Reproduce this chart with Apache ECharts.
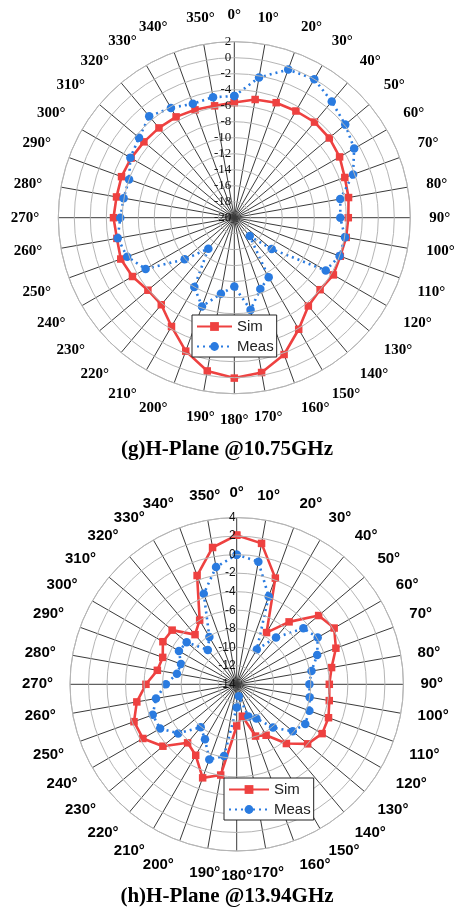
<!DOCTYPE html>
<html><head><meta charset="utf-8">
<script src="https://cdn.jsdelivr.net/npm/echarts@6/dist/echarts.min.js"></script>
<style>html,body{margin:0;padding:0;background:#fff}#c{width:454px;height:908px}</style>
</head><body><div id="c"></div>
<script>
// Angles (degrees) shared by both patterns
const angles = [0,10,20,30,40,50,60,70,80,90,100,110,120,130,140,150,160,170,180,190,200,210,220,230,240,250,260,270,280,290,300,310,320,330,340,350];

// (g) H-Plane @10.75GHz
const simG  = [-5.6,-5.0,-4.7,-4.6,-4.4,-4.5,-4.8,-5.3,-5.5,-5.75,-5.8,-5.9,-5.7,-6.0,-5.6,-3.9,-1.8,-0.35,0.05,-0.55,-2.25,-4.3,-5.8,-5.9,-5.3,-4.9,-5.1,-4.9,-5.05,-5.0,-5.1,-5.25,-5.35,-5.45,-5.65,-5.8];
const measG = [-4.8,-2.2,-0.3,0.0,-1.05,-1.9,-2.7,-4.2,-6.55,-6.75,-5.95,-6.0,-6.8,-13.9,-17.0,-11.4,-10.5,-8.3,-11.4,-10.35,-8.2,-10.0,-14.95,-11.9,-7.2,-5.75,-5.2,-5.75,-5.95,-6.0,-5.0,-4.45,-3.45,-4.15,-4.85,-4.7];
const radialTicksG = [-20,-18,-16,-14,-12,-10,-8,-6,-4,-2,0,2];

// (h) H-Plane @13.94GHz
const simH  = [2.1,1.45,-1.8,-7.55,-5.2,-2.45,-1.85,-2.6,-3.6,-4.0,-3.85,-3.45,-3.35,-4.0,-5.65,-7.65,-8.05,-10.5,-9.5,-4.05,-3.25,-5.15,-5.75,-3.6,-2.3,-2.2,-3.05,-4.2,-5.3,-5.5,-4.8,-4.9,-7.0,-6.0,-1.5,1.0];
const measH = [0.0,-0.55,-3.9,-9.65,-7.4,-4.6,-3.9,-4.75,-5.8,-6.15,-6.0,-5.65,-5.45,-6.1,-7.9,-9.75,-10.3,-12.7,-11.5,-6.15,-5.35,-7.15,-7.95,-5.75,-4.45,-4.35,-5.15,-6.35,-7.45,-7.6,-6.8,-6.95,-9.15,-8.1,-3.6,-1.15];
const radialTicksH = [-14,-12,-10,-8,-6,-4,-2,0,2,4];

const titles = ['(g)H-Plane @10.75GHz', '(h)H-Plane @13.94GHz'];
const seriesNames = ['Sim', 'Meas'];

const RED = '#ee4140', BLUE = '#2a7be0';
const SPOKE = '#3a3a3a', RING = '#b5b5b5';

function closed(vals) {
  const a = angles.concat([360]);
  return a.map((ang, i) => [vals[i % vals.length], ang]);
}

function polarAxes(idx, ticks, fontFamily, margin, radFont, radMargin) {
  const angleAxis = {
    polarIndex: idx, type: 'value', min: 0, max: 360, interval: 10,
    startAngle: 90, clockwise: true,
    axisLine: { lineStyle: { color: RING, width: 1 } },
    axisTick: { show: false },
    splitLine: { show: true, lineStyle: { color: SPOKE, width: 1 } },
    axisLabel: {
      margin: margin, color: '#000', fontFamily: fontFamily, fontWeight: 'bold', fontSize: 15,
      formatter: v => (v >= 360 ? '' : v + '°')
    }
  };
  const radiusAxis = {
    polarIndex: idx, type: 'value', min: ticks[0], max: ticks[ticks.length - 1], interval: ticks[1] - ticks[0],
    axisLine: { show: false }, axisTick: { show: false },
    splitLine: { show: true, lineStyle: { color: RING, width: 1 } },
    axisLabel: { margin: radMargin, color: '#111', fontFamily: radFont, fontSize: 13 },
    z: 5
  };
  return [angleAxis, radiusAxis];
}

const [aG, rG] = polarAxes(0, radialTicksG, '"Liberation Serif", "Times New Roman", serif', 19, '"Liberation Serif", serif', 3);
const [aH, rH] = polarAxes(1, radialTicksH, '"Liberation Sans", Arial, sans-serif', 17, '"Liberation Sans", Arial, sans-serif', 1);
rH.axisLabel.fontSize = 12;

function mkSeries(idx, sim, meas) {
  return [
    { name: seriesNames[0], type: 'line', coordinateSystem: 'polar', polarIndex: idx,
      data: closed(sim), symbol: 'rect', symbolSize: 7.5, z: 3,
      lineStyle: { color: RED, width: 2.6 }, itemStyle: { color: RED }, animation: false },
    { name: seriesNames[1], type: 'line', coordinateSystem: 'polar', polarIndex: idx,
      data: closed(meas), symbol: 'circle', symbolSize: 8.5, z: 4,
      lineStyle: { color: BLUE, width: 2.6, type: [2, 4] }, itemStyle: { color: BLUE }, animation: false }
  ];
}

function mkLegend(left, top, itemWidth) {
  return {
    data: seriesNames, orient: 'vertical', left: left, top: top,
    backgroundColor: '#fff', borderColor: '#222', borderWidth: 1, borderRadius: 0,
    padding: [4, 3, 3, 4], itemWidth: itemWidth, itemHeight: 11, itemGap: 5,
    textStyle: { fontFamily: '"Liberation Sans", Arial, sans-serif', fontSize: 15, color: '#222' },
    selectedMode: false, z: 10
  };
}

const titleStyle = { fontFamily: '"Liberation Serif", "Times New Roman", serif', fontWeight: 'bold', fontSize: 21, color: '#000' };

const chart = echarts.init(document.getElementById('c'), null, { renderer: 'canvas' });
chart.setOption({
  animation: false,
  backgroundColor: '#fff',
  title: [
    { text: titles[0], left: 'center', top: 434, textStyle: titleStyle },
    { text: titles[1], left: 'center', top: 881, textStyle: titleStyle }
  ],
  polar: [
    { center: [234.3, 217.7], radius: 176 },
    { center: [236.7, 684.3], radius: 166.7 }
  ],
  angleAxis: [aG, aH],
  radiusAxis: [rG, rH],
  legend: [mkLegend(192, 315, 35), mkLegend(224, 778, 40)],
  series: mkSeries(0, simG, measG).concat(mkSeries(1, simH, measH))
});
</script>
</body></html>
